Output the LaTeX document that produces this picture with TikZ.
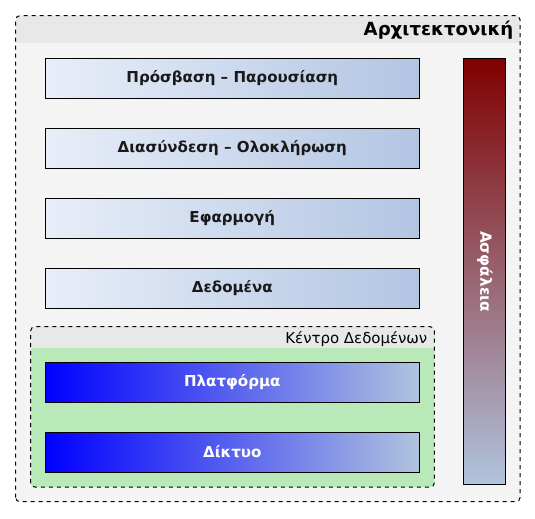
\documentclass[tikz,border=0pt]{standalone}
\usepackage{fontspec}
\setmainfont{DejaVu Sans}
\usepackage{tikz}
\usepackage{xcolor}

\definecolor{framefill}{HTML}{F4F4F4}
\definecolor{headfill}{HTML}{E8E8E8}
\definecolor{dcfill}{HTML}{B9E8B9}
\definecolor{layerleft}{HTML}{E8EEF8}
\definecolor{layerright}{HTML}{B2C5E3}
\definecolor{steel}{HTML}{B0C4DE}
\definecolor{darkred}{HTML}{800000}

\begin{document}
\begin{tikzpicture}[x=0.75pt,y=0.75pt,
    layer/.style={draw=black, line width=0.75pt, minimum width=280.5pt,
      minimum height=30pt, inner sep=0pt, left color=layerleft,
      right color=layerright, text=black!90,
      font=\bfseries\fontsize{11.3pt}{13pt}\selectfont},
    infra/.style={layer, left color=blue, right color=steel, text=white}]
        \useasboundingbox (0,0) rectangle (535,518);

        % outer frame with header band
        \fill[framefill, rounded corners=3pt] (15.7,16.3) rectangle (520,502.3);
        \begin{scope}
            \clip[rounded corners=3pt] (15.7,16.3) rectangle (520,502.3);
            \fill[headfill] (15.7,475.3) rectangle (520,502.3);
        \end{scope}
        \draw[dashed, line width=0.75pt, rounded corners=3pt] (15.7,16.3) rectangle (520,502.3);
        \node[anchor=base east, font=\bfseries\fontsize{13.6pt}{15pt}\selectfont] (title) at (518,482) {Αρχιτεκτονική};

        % data centre frame
        \fill[dcfill, rounded corners=3pt] (30.7,31) rectangle (434.3,191.3);
        \begin{scope}
            \clip[rounded corners=3pt] (30.7,31) rectangle (434.3,191.3);
            \fill[headfill] (30.7,170) rectangle (434.3,191.3);
        \end{scope}
        \draw[dashed, line width=0.75pt, rounded corners=3pt] (30.7,31) rectangle (434.3,191.3);
        \node[anchor=base east, font=\fontsize{11.2pt}{13pt}\selectfont] (dclabel) at (432,174.5) {Κέντρο Δεδομένων};

        % layers
        \node[layer] (access) at (232.3,439.7) {Πρόσβαση – Παρουσίαση};
        \node[layer] (integration) at (232.3,369.7) {Διασύνδεση – Ολοκλήρωση};
        \node[layer] (application) at (232.3,299.7) {Εφαρμογή};
        \node[layer] (data) at (232.3,229.7) {Δεδομένα};
        \node[infra] (platform) at (232.3,136) {Πλατφόρμα};
        \node[infra] (network) at (232.3,66) {Δίκτυο};

        % security bar
        \node[draw=black, line width=0.75pt, minimum width=31.3pt, minimum height=320pt,
          inner sep=0pt, top color=darkred, bottom color=steel] (security) at (484.85,246.35) {};
        \node[rotate=-90, text=white, font=\bfseries\fontsize{11.5pt}{13pt}\selectfont] (seclabel) at (security) {Ασφάλεια};
    \end{tikzpicture}
\end{document}
